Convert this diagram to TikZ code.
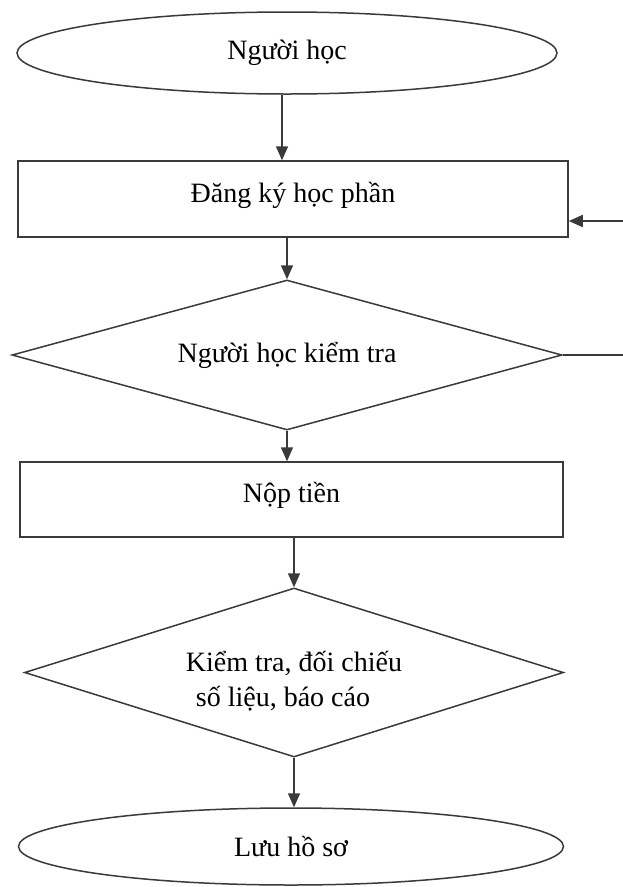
\documentclass[tikz,border=0pt]{standalone}
\usepackage{fontspec}
\setmainfont{Liberation Serif}
\usetikzlibrary{shapes.geometric,arrows.meta}
\definecolor{ink}{HTML}{3A3A3A}
\begin{document}
\begin{tikzpicture}[x=1pt,y=-1pt,
  every node/.style={font=\fontsize{28}{35}\selectfont, text=black},
  shapeline/.style={draw=ink, line width=1.5pt, inner sep=0pt},
  terminal/.style={shapeline, ellipse},
  process/.style={shapeline, rectangle},
  decision/.style={shapeline, diamond},
  link/.style={draw=ink, line width=1.5pt},
  flow/.style={link, -{Triangle[length=14pt,width=12pt]}},
]
\fill[white] (0,0) rectangle (623,887);
\useasboundingbox (0,0) rectangle (623,887);

% shapes of the flow chart
\node[terminal, minimum width=540pt, minimum height=82pt] (start) at (287,53) {Người học};
\node[process, minimum width=550pt, minimum height=76pt, text depth=14pt] (reg) at (293,199) {Đăng ký học phần};
\node[decision, aspect=3.667, minimum width=550pt, minimum height=150pt] (check) at (287,355) {Người học kiểm tra};
\node[process, minimum width=543pt, minimum height=75pt, text depth=14pt] (pay) at (291.5,499.5) {Nộp tiền};
\node[decision, aspect=3.19, minimum width=539pt, minimum height=169pt, align=left] (audit) at (294,672.5)
  {\rule{0pt}{38pt}Kiểm tra, đối chiếu\\\hspace*{10pt}số liệu, báo cáo};
\node[terminal, minimum width=545pt, minimum height=77pt] (archive) at (291,846.5) {Lưu hồ sơ};

% main downward flow
\draw[flow] ([xshift=-5pt]start.south) -- ([xshift=-5pt]start.south |- reg.north);
\draw[flow] (check.north |- reg.south) -- (check.north);
\draw[flow] (check.south) -- (check.south |- pay.north);
\draw[flow] (audit.north |- pay.south) -- (audit.north);
\draw[flow] (audit.south) -- (audit.south |- archive.north);

% return path on the right edge
\coordinate (backin) at (623,221);
\coordinate (backout) at (623,355);
\draw[flow] (backin) -- (backin -| reg.east);
\draw[link] (check.east) -- (backout |- check.east);
\end{tikzpicture}
\end{document}
